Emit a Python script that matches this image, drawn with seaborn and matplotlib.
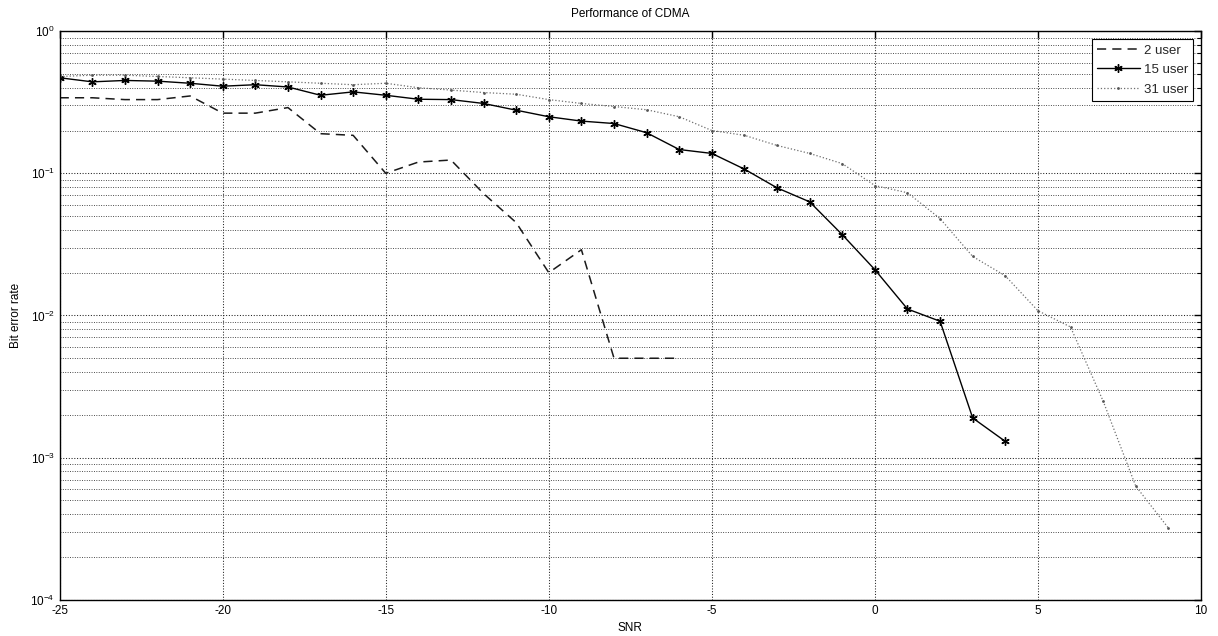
import matplotlib
matplotlib.use("Agg")
import matplotlib.pyplot as plt
import matplotlib.ticker as mticker
import numpy as np
import pandas as pd
import seaborn as sns

# SNR (dB) grids for each curve
snr_2 = list(range(-25, -5))
snr_15 = list(range(-25, 5))
snr_31 = list(range(-25, 10))

ber_2 = [0.34, 0.34, 0.33, 0.33, 0.35, 0.265, 0.265, 0.29, 0.19, 0.185,
         0.10, 0.12, 0.124, 0.072, 0.045, 0.020, 0.029, 0.005, 0.005, 0.005]
ber_15 = [0.47, 0.44, 0.45, 0.445, 0.43, 0.41, 0.42, 0.405, 0.354, 0.374,
          0.354, 0.332, 0.33, 0.31, 0.278, 0.25, 0.233, 0.224, 0.193, 0.147,
          0.138, 0.107, 0.079, 0.063, 0.037, 0.021, 0.0111, 0.0091, 0.0019, 0.0013]
ber_31 = [0.48, 0.49, 0.49, 0.48, 0.47, 0.46, 0.45, 0.44, 0.43, 0.42,
          0.43, 0.40, 0.385, 0.37, 0.36, 0.33, 0.31, 0.295, 0.28, 0.25,
          0.20, 0.185, 0.157, 0.138, 0.117, 0.082, 0.073, 0.048, 0.026, 0.019,
          0.0108, 0.0083, 0.0025, 0.00063, 0.00032]

labels = ["2 user", "15 user", "31 user"]
x_ticks = [-25, -20, -15, -10, -5, 0, 5, 10]

sns.set_theme(style="white")
plt.rcParams["font.family"] = ["Liberation Sans", "DejaVu Sans"]

fig = plt.figure(figsize=(12.18, 6.36), dpi=100)
ax = fig.add_axes([0.049, 0.057, 0.937, 0.894])

df2 = pd.DataFrame({"SNR": snr_2, "BER": ber_2})
df15 = pd.DataFrame({"SNR": snr_15, "BER": ber_15})
df31 = pd.DataFrame({"SNR": snr_31, "BER": ber_31})

sns.lineplot(data=df2, x="SNR", y="BER", ax=ax, color="#1a1a1a", linewidth=1.1,
             linestyle=(0, (6, 4)), label=labels[0])
sns.lineplot(data=df15, x="SNR", y="BER", ax=ax, color="black", linewidth=1.0,
             marker=(6, 2, 0), markersize=6, markeredgewidth=1.0,
             markeredgecolor="black", label=labels[1])
sns.lineplot(data=df31, x="SNR", y="BER", ax=ax, color="#6e6e6e", linewidth=0.9,
             linestyle=":", marker="o", markersize=2, markeredgewidth=0,
             markerfacecolor="#555555", label=labels[2])

ax.set_yscale("log")
ax.set_xlim(-25, 10)
ax.set_ylim(1e-4, 1)
ax.set_xticks(x_ticks)
ax.set_xticklabels([str(t) for t in x_ticks])
ax.yaxis.set_major_locator(mticker.LogLocator(base=10, numticks=10))
ax.yaxis.set_minor_locator(mticker.LogLocator(base=10, subs=np.arange(2, 10), numticks=20))
ax.yaxis.set_minor_formatter(mticker.NullFormatter())

ax.grid(True, which="major", axis="both", color="#222222", linestyle=":", linewidth=0.75)
ax.grid(True, which="minor", axis="y", color="#333333", linestyle=":", linewidth=0.65)

ax.tick_params(axis="both", which="both", direction="in", top=True, right=True,
               labelsize=8.5, colors="black")
ax.tick_params(axis="both", which="major", length=5, width=1)
ax.tick_params(axis="y", which="minor", length=3, width=0.8)
for spine in ax.spines.values():
    spine.set_visible(True)
    spine.set_color("black")
    spine.set_linewidth(1.0)

ax.set_title("Performance of CDMA", fontsize=8.5, color="black", pad=10)
ax.set_xlabel("SNR", fontsize=8.5, color="black", labelpad=4)
ax.set_ylabel("Bit error rate", fontsize=8.5, color="black", labelpad=6)

leg = ax.legend(loc="upper right", fontsize=9.5, frameon=True, fancybox=False,
                borderaxespad=0.6, handlelength=3.2, labelspacing=0.55,
                borderpad=0.4, handletextpad=0.3)
leg.get_frame().set_edgecolor("black")
leg.get_frame().set_linewidth(0.8)
leg.get_frame().set_alpha(1.0)

fig.savefig("out.png", dpi=100, facecolor="white")
